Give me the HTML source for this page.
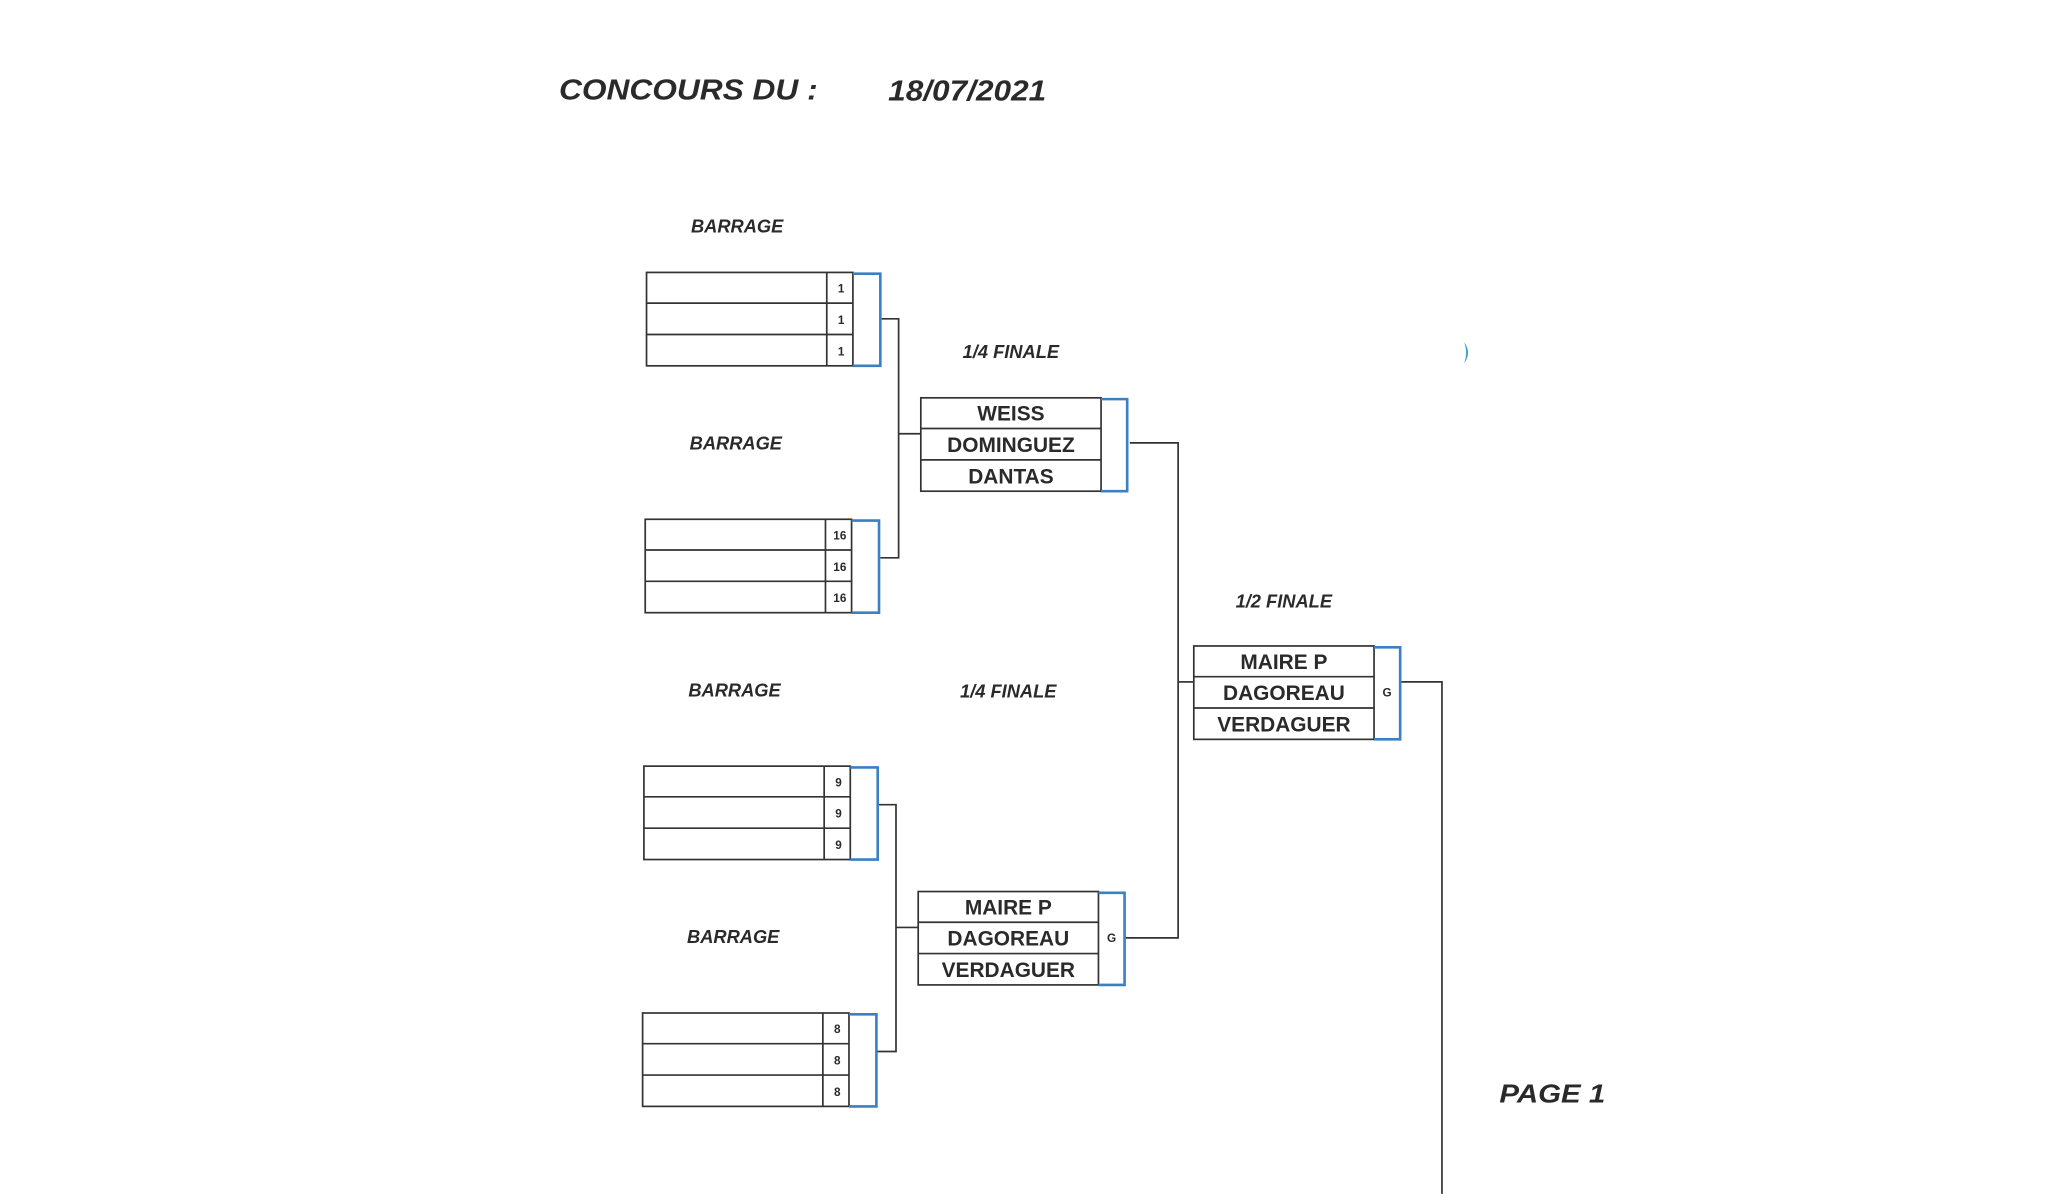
<!DOCTYPE html>
<html><head><meta charset="utf-8"><style>
html,body{margin:0;padding:0;background:#fff;}
svg{display:block;}
text{font-family:"Liberation Sans",Arial,sans-serif;font-weight:bold;fill:#2a2a2a;}
.i{font-style:italic;}
</style></head><body>
<svg width="2048" height="1194" viewBox="0 0 1568 914" xmlns="http://www.w3.org/2000/svg">
<rect width="1568" height="914" fill="#fff"/>
<text x="428" y="76" font-size="22" class="i" fill="#333" textLength="198" lengthAdjust="spacingAndGlyphs">CONCOURS DU :</text>
<text x="680" y="77" font-size="22" class="i" fill="#333" textLength="121" lengthAdjust="spacingAndGlyphs">18/07/2021</text>
<g font-size="14" class="i">
<text x="529" y="178">BARRAGE</text>
<text x="528" y="344">BARRAGE</text>
<text x="527" y="533">BARRAGE</text>
<text x="526" y="722">BARRAGE</text>
<text x="737" y="274">1/4 FINALE</text>
<text x="735" y="534">1/4 FINALE</text>
<text x="946" y="465">1/2 FINALE</text>
</g>
<text x="1148" y="844" font-size="20" class="i" textLength="81" lengthAdjust="spacingAndGlyphs">PAGE 1</text>
<g fill="none" stroke="#333" stroke-width="1.3">
<g id="b1">
<rect x="495" y="208.5" width="158" height="71.5"/>
<line x1="495" y1="232" x2="653" y2="232"/><line x1="495" y1="256" x2="653" y2="256"/>
<line x1="633" y1="208.5" x2="633" y2="280"/>
</g>
<use href="#b1" x="-1" y="189"/>
<use href="#b1" x="-2" y="378"/>
<use href="#b1" x="-3" y="567"/>
<polyline points="675,244 688,244 688,427 674,427"/>
<line x1="688" y1="332" x2="705" y2="332"/>
<polyline points="673,616 686,616 686,805 671,805"/>
<line x1="686" y1="710" x2="703" y2="710"/>
<polyline points="865,339 902,339 902,718 862,718"/>
<line x1="902" y1="522" x2="914" y2="522"/>
<polyline points="1073,522 1104,522 1104,914"/>
<g id="q1">
<rect x="705" y="304.5" width="138" height="71.5"/>
<line x1="705" y1="328" x2="843" y2="328"/><line x1="705" y1="352" x2="843" y2="352"/>
</g>
<use href="#q1" x="-2" y="378"/>
<use href="#q1" x="209" y="190"/>
</g>
<g fill="none" stroke="#3b7fc4" stroke-width="2">
<polyline points="653,209.5 674,209.5 674,280 653,280"/>
<polyline points="652,398.5 673,398.5 673,469 652,469"/>
<polyline points="651,587.5 672,587.5 672,658 651,658"/>
<polyline points="650,776.5 671,776.5 671,847 650,847"/>
<polyline points="843,305.5 863,305.5 863,376 843,376"/>
<polyline points="841,683.5 861,683.5 861,754 841,754"/>
<polyline points="1052,495.5 1072,495.5 1072,566 1052,566"/>
</g>
<g font-size="9" text-anchor="middle" font-weight="bold">
<text x="644" y="224">1</text><text x="644" y="248">1</text><text x="644" y="272">1</text>
<text x="643" y="413">16</text><text x="643" y="437">16</text><text x="643" y="461">16</text>
<text x="642" y="602">9</text><text x="642" y="626">9</text><text x="642" y="650">9</text>
<text x="641" y="791">8</text><text x="641" y="815">8</text><text x="641" y="839">8</text>
<text x="851" y="721">G</text><text x="1062" y="533">G</text>
</g>
<g font-size="16" text-anchor="middle">
<text x="774" y="322">WEISS</text><text x="774" y="346">DOMINGUEZ</text><text x="774" y="370">DANTAS</text>
<text x="772" y="700">MAIRE P</text><text x="772" y="724">DAGOREAU</text><text x="772" y="748">VERDAGUER</text>
<text x="983" y="512">MAIRE P</text><text x="983" y="536">DAGOREAU</text><text x="983" y="560">VERDAGUER</text>
</g>
<path d="M1121,262 q6,8 0,16 q3,-8 0,-16z" fill="#3b9fd4"/>
</svg>
</body></html>
